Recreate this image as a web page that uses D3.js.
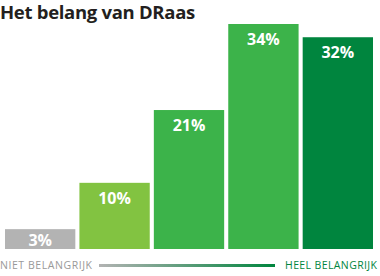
<!DOCTYPE html>
<meta charset="utf-8" />
<script src="https://d3js.org/d3.v7.min.js"></script>
<style>
  body { margin: 0; background: #fff; }
  text { font-family: "Open Sans", "Noto Sans", sans-serif; }
</style>
<body>
  <div id="chart"></div>
  <script>
    // data
    const categories = ["1", "2", "3", "4", "5"];
    const values = [3, 10, 21, 34, 32];
    const colors = ["#b3b3b3", "#82c341", "#3cb34a", "#3cb34a", "#00853e"];
    const title = "Het belang van DRaas";
    const lowLabel = "NIET BELANGRIJK";
    const highLabel = "HEEL BELANGRIJK";

    const width = 380, height = 276;
    const svg = d3.select("#chart").append("svg")
      .attr("width", width).attr("height", height);

    const x = d3.scaleBand()
      .domain(categories)
      .range([5, 373])
      .paddingInner(0.055);

    const y = d3.scaleLinear()
      .domain([0, 34])
      .range([249, 24]);

    svg.append("text")
      .attr("x", 0).attr("y", 19)
      .attr("font-size", "18.5px")
      .attr("font-weight", "bold")
      .attr("fill", "#231f20")
      .attr("letter-spacing", "-0.3")
      .text(title);

    const bars = svg.selectAll("g.bar")
      .data(values)
      .enter()
      .append("g")
      .attr("class", "bar");

    bars.append("rect")
      .attr("x", (d, i) => x(categories[i]))
      .attr("y", d => y(d))
      .attr("width", x.bandwidth())
      .attr("height", d => y(0) - y(d))
      .attr("fill", (d, i) => colors[i]);

    bars.append("text")
      .attr("x", (d, i) => x(categories[i]) + x.bandwidth() / 2)
      .attr("y", d => Math.min(y(d) + 21, y(0) - 3))
      .attr("text-anchor", "middle")
      .attr("font-size", "16px")
      .attr("font-weight", "bold")
      .attr("fill", "#fff")
      .text(d => d + "%");

    // gradient line
    const grad = svg.append("defs").append("linearGradient")
      .attr("id", "scaleGrad")
      .attr("x1", "0%").attr("x2", "100%");
    grad.append("stop").attr("offset", "0%").attr("stop-color", "#b3b3b3");
    grad.append("stop").attr("offset", "100%").attr("stop-color", "#00853e");

    svg.append("rect")
      .attr("x", 99).attr("y", 264)
      .attr("width", 176).attr("height", 3)
      .attr("fill", "url(#scaleGrad)");

    svg.append("text")
      .attr("x", 0).attr("y", 269)
      .attr("font-size", "10.5px")
      .attr("fill", "#999")
      .attr("textLength", 92)
      .text(lowLabel);

    svg.append("text")
      .attr("x", 285).attr("y", 269)
      .attr("font-size", "10.5px")
      .attr("fill", "#00853e")
      .attr("textLength", 92)
      .text(highLabel);
  </script>
</body>
